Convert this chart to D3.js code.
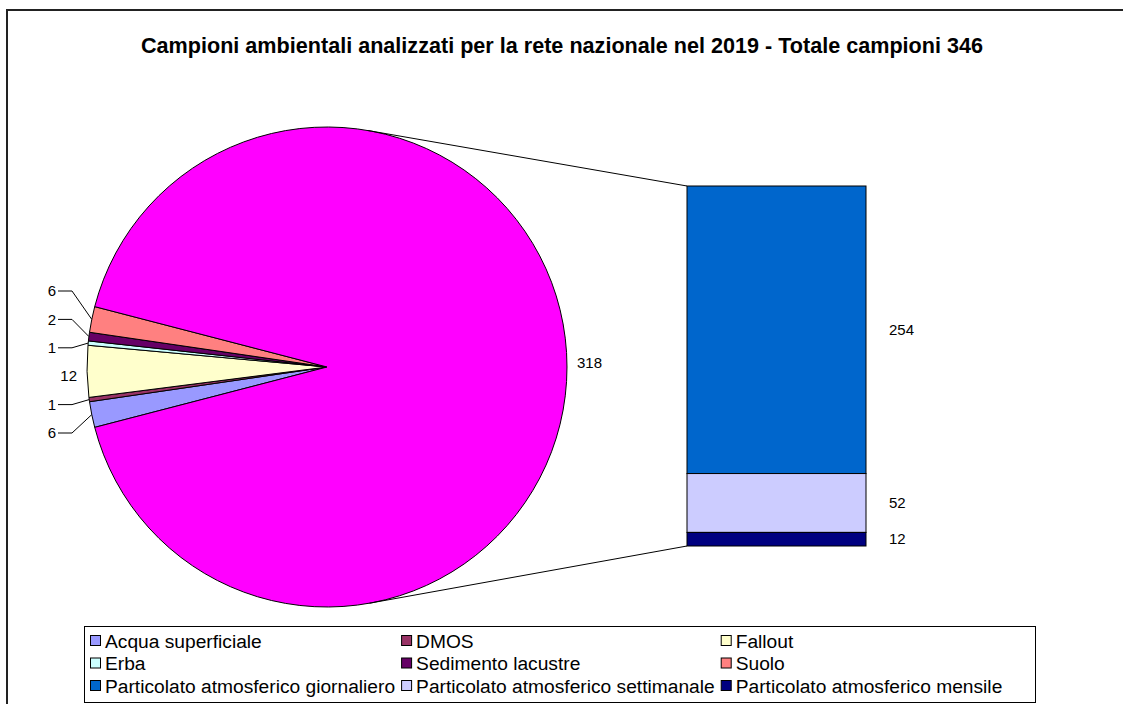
<!DOCTYPE html>
<html>
<head>
<meta charset="utf-8">
<script src="https://cdn.jsdelivr.net/npm/d3@7"></script>
<style>
  html, body { margin: 0; padding: 0; background: #fff; }
  svg { display: block; font-family: "Liberation Sans", Arial, sans-serif; }
</style>
</head>
<body>
<svg id="chart" width="1123" height="704"></svg>
<script>
// ---- Data ----
const title = "Campioni ambientali analizzati per la rete nazionale nel 2019 - Totale campioni 346";
const pieCategories = ["Acqua superficiale", "DMOS", "Fallout", "Erba", "Sedimento lacustre", "Suolo"];
const pieValues = [6, 1, 12, 1, 2, 6];
const pieColors = ["#9999FF", "#993366", "#FFFFCC", "#CCFFFF", "#660066", "#FF8080"];
const otherColor = "#FF00FF";
const barCategories = ["Particolato atmosferico giornaliero", "Particolato atmosferico settimanale", "Particolato atmosferico mensile"];
const barValues = [254, 52, 12];
const barColors = ["#0066CC", "#CCCCFF", "#000080"];

const svg = d3.select("#chart");
const W = 1123, H = 704;

// outer border (only top/left visible)
svg.append("rect").attr("x", 7).attr("y", 10).attr("width", W + 20).attr("height", H + 20)
  .attr("fill", "none").attr("stroke", "#222").attr("stroke-width", 2);

// title
svg.append("text").attr("x", 562).attr("y", 53).attr("text-anchor", "middle")
  .attr("font-weight", "bold").attr("font-size", 21.6).text(title);

// ---- Pie ----
const cx = 327, cy = 367, r = 240;
const otherValue = d3.sum(barValues);
const smallTotal = d3.sum(pieValues);
const total = smallTotal + otherValue;
const smallSpan = smallTotal / total * 2 * Math.PI;
const startA = 1.5 * Math.PI - smallSpan / 2;

const pieData = pieCategories.map((c, i) => ({ name: c, value: pieValues[i], color: pieColors[i] }));
pieData.push({ name: "other", value: otherValue, color: otherColor });

const pie = d3.pie().sort(null).value(d => d.value)
  .startAngle(startA).endAngle(startA + 2 * Math.PI);
const arcs = pie(pieData);
const arc = d3.arc().innerRadius(0).outerRadius(r);

const g = svg.append("g").attr("transform", `translate(${cx},${cy})`);
g.selectAll("path").data(arcs).join("path")
  .attr("d", arc).attr("fill", d => d.data.color)
  .attr("stroke", "#000").attr("stroke-width", 1).attr("stroke-linejoin", "round");

// small slice labels
const smallArcs = arcs.slice(0, pieValues.length);
const ordered = smallArcs.slice().reverse(); // top to bottom
const gap = 28.4;
ordered.forEach((a, k) => {
  const mid = (a.startAngle + a.endAngle) / 2;
  const ex = cx + r * Math.sin(mid), ey = cy - r * Math.cos(mid);
  const ly = cy - 5 + (k - (ordered.length - 1) / 2) * gap;
  const span = (a.endAngle - a.startAngle) * 180 / Math.PI;
  if (span > 10) {
    svg.append("text").attr("x", cx - r - 10).attr("y", ly).attr("dy", "0.35em")
      .attr("text-anchor", "end").attr("font-size", 15).text(a.data.value);
  } else {
    svg.append("polyline")
      .attr("points", `${58},${ly} ${72},${ly} ${ex},${ey}`)
      .attr("fill", "none").attr("stroke", "#000").attr("stroke-width", 1);
    svg.append("text").attr("x", 56).attr("y", ly).attr("dy", "0.35em")
      .attr("text-anchor", "end").attr("font-size", 15).text(a.data.value);
  }
});

// other label
const otherArc = arcs[arcs.length - 1];
const om = (otherArc.startAngle + otherArc.endAngle) / 2;
svg.append("text").attr("x", cx + (r + 10) * Math.sin(om)).attr("y", cy - 4 - (r + 10) * Math.cos(om))
  .attr("dy", "0.35em").attr("font-size", 15).text(otherValue);

// ---- Bar ----
const bx0 = 687, bx1 = 866;
const y = d3.scaleLinear().domain([0, otherValue]).range([546, 186]);
let cum = 0;
const segs = barValues.map((v, i) => { const s = { v, c: barColors[i], y0: cum, y1: cum + v }; cum += v; return s; });
const stackTop = segs.map(s => ({ ...s, top: otherValue - s.y0, bot: otherValue - s.y1 }));
svg.selectAll("rect.seg").data(stackTop).join("rect").attr("class", "seg")
  .attr("x", bx0).attr("width", bx1 - bx0)
  .attr("y", d => y(d.top)).attr("height", d => y(d.bot) - y(d.top))
  .attr("fill", d => d.c).attr("stroke", "#000").attr("stroke-width", 1);
svg.selectAll("text.seg").data(stackTop).join("text").attr("class", "seg")
  .attr("x", bx1 + 23).attr("y", d => (y(d.top) + y(d.bot)) / 2).attr("dy", "0.35em")
  .attr("font-size", 15).text(d => d.v);

// connector tangent lines
function tangent(px, py, sign) {
  const dx = px - cx, dy = py - cy;
  const d = Math.hypot(dx, dy);
  const base = Math.atan2(dy, dx);
  const off = Math.acos(r / d);
  const t = base + sign * off;
  return [cx + r * Math.cos(t), cy + r * Math.sin(t)];
}
const tTop = tangent(bx0, y(otherValue), -1);
const tBot = tangent(bx0, y(0), 1);
svg.append("line").attr("x1", tTop[0]).attr("y1", tTop[1]).attr("x2", bx0).attr("y2", y(otherValue))
  .attr("stroke", "#000").attr("stroke-width", 1);
svg.append("line").attr("x1", tBot[0]).attr("y1", tBot[1]).attr("x2", bx0).attr("y2", y(0))
  .attr("stroke", "#000").attr("stroke-width", 1);

// ---- Legend ----
const legendItems = pieCategories.map((c, i) => ({ name: c, color: pieColors[i] }))
  .concat(barCategories.map((c, i) => ({ name: c, color: barColors[i] })));
const lg = svg.append("g");
lg.append("rect").attr("x", 84.5).attr("y", 626.5).attr("width", 951).attr("height", 76)
  .attr("fill", "#fff").attr("stroke", "#000").attr("stroke-width", 1);
const cols = 3;
const legendFont = 19.2;
const tmp = svg.append("text").attr("font-size", legendFont);
const widths = legendItems.map(d => { tmp.text(d.name); return tmp.node().getComputedTextLength(); });
tmp.remove();
const colW = d3.range(cols).map(c => d3.max(legendItems.filter((_, i) => i % cols === c), (_, j) => widths[j * cols + c]));
let colX = [90];
for (let c = 1; c < cols; c++) colX.push(colX[c - 1] + 16 + colW[c - 1] + 5);
legendItems.forEach((d, i) => {
  const c = i % cols, row = Math.floor(i / cols);
  const ly = 641 + row * 22.5;
  lg.append("rect").attr("x", colX[c] + 0.5).attr("y", ly - 5.5).attr("width", 10).attr("height", 10)
    .attr("fill", d.color).attr("stroke", "#000").attr("stroke-width", 1);
  lg.append("text").attr("x", colX[c] + 15).attr("y", ly).attr("dy", "0.35em")
    .attr("font-size", legendFont).text(d.name);
});
</script>
</body>
</html>
